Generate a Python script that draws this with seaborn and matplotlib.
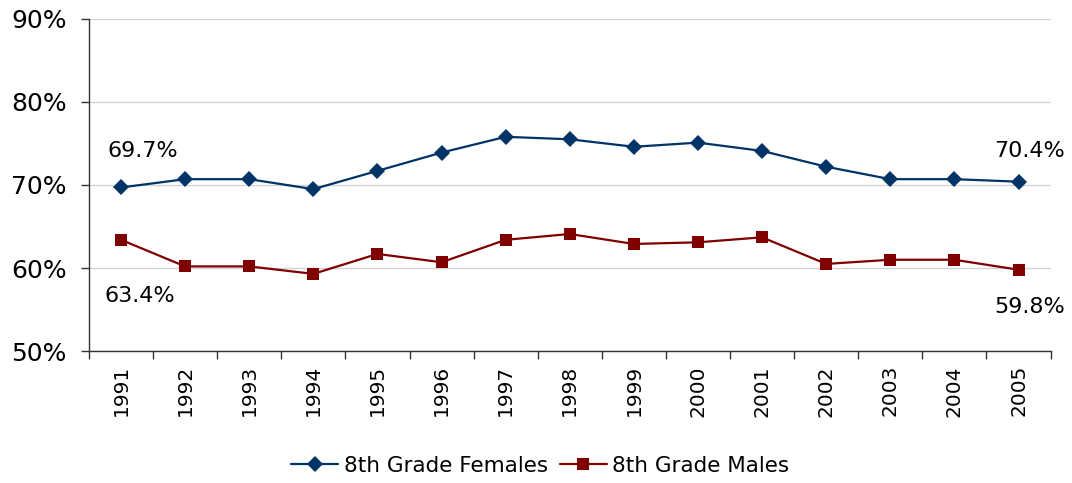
import numpy as np
import pandas as pd
import matplotlib
matplotlib.use("Agg")
import matplotlib.pyplot as plt
import seaborn as sns

years = [str(y) for y in range(1991, 2006)]
females = [69.7, 70.7, 70.7, 69.5, 71.7, 73.9, 75.8, 75.5, 74.6, 75.1, 74.1, 72.2, 70.7, 70.7, 70.4]
males = [63.4, 60.2, 60.2, 59.3, 61.7, 60.7, 63.4, 64.1, 62.9, 63.1, 63.7, 60.5, 61.0, 61.0, 59.8]
series_names = ["8th Grade Females", "8th Grade Males"]
y_ticks = [50, 60, 70, 80, 90]

df = pd.DataFrame({
    "Year": years * 2,
    "Value": females + males,
    "Series": [series_names[0]] * len(years) + [series_names[1]] * len(years),
})

sns.set_theme(style="white")
plt.rcParams['font.family'] = ['DejaVu Sans']

fig = plt.figure(figsize=(10.72, 4.83), dpi=100)
ax = fig.add_axes([0.083, 0.273, 0.897, 0.688])

palette = {series_names[0]: "#003366", series_names[1]: "#800000"}
markers = {series_names[0]: "D", series_names[1]: "s"}
sns.lineplot(data=df, x="Year", y="Value", hue="Series", style="Series",
             markers=markers, dashes=False, palette=palette, ax=ax,
             linewidth=1.6, markersize=8, markeredgewidth=0, sort=False)
for ln in ax.lines:
    if ln.get_marker() == "D":
        ln.set_markersize(8.5)

ax.set_xlim(-0.5, len(years) - 0.5)
ax.set_ylim(50, 90)
ax.set_yticks(y_ticks)
ax.set_yticklabels([f"{t}%" for t in y_ticks], fontsize=18, color="#000000")
ax.set_xticks(range(len(years)))
ax.set_xticklabels(years, rotation=90, fontsize=14.5, color="#000000")
ax.set_xticks(np.arange(-0.5, len(years), 1.0), minor=True)
ax.tick_params(axis="x", which="major", length=0, pad=10)
ax.tick_params(axis="x", which="minor", length=6, width=1, color="#333333", direction="out", bottom=True)
ax.tick_params(axis="y", which="major", length=6, width=1, color="#333333", direction="out", left=True, pad=10)
ax.set_xlabel("")
ax.set_ylabel("")
ax.yaxis.grid(True, color="#d4d4d4", linewidth=1)
ax.xaxis.grid(False)
for s in ["top", "right"]:
    ax.spines[s].set_visible(False)
for s in ["left", "bottom"]:
    ax.spines[s].set_color("#333333")
    ax.spines[s].set_linewidth(1)

# end-point data labels
ann = [
    (0, females[0], 22, 36),
    (0, males[0], 19, -56),
    (len(years) - 1, females[-1], 11, 31),
    (len(years) - 1, males[-1], 11, -37),
]
for x, v, dx, dy in ann:
    ax.annotate(f"{v:.1f}%", xy=(x, v), xytext=(dx, dy), textcoords="offset pixels",
                ha="center", va="center", fontsize=16, color="#000000")

handles, labels = ax.get_legend_handles_labels()
leg = ax.legend(handles, labels, loc="center", bbox_to_anchor=(0.504, 0.036),
                bbox_transform=fig.transFigure, ncol=2, frameon=False,
                fontsize=15.5, handlelength=2.2, handletextpad=0.25, columnspacing=0.55)
for t in leg.get_texts():
    t.set_color("#000000")

fig.savefig("out.png", dpi=100)
